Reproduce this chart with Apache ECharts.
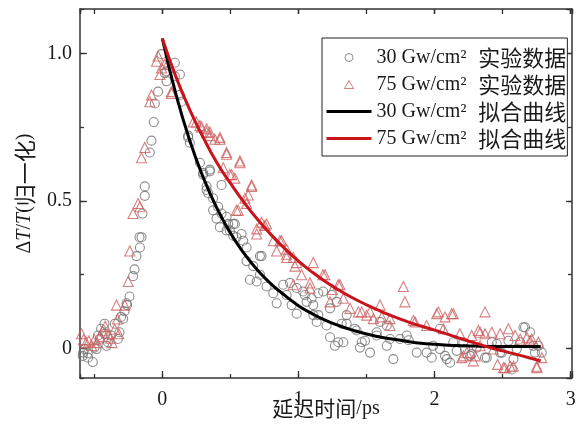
<!DOCTYPE html>
<html>
<head>
<meta charset="utf-8">
<script src="https://cdn.jsdelivr.net/npm/echarts@6/dist/echarts.min.js"></script>
<style>
  html, body { margin: 0; padding: 0; background: #fff; }
  #chart { width: 585px; height: 428px; }
</style>
</head>
<body>
<div id="chart"></div>
<script>
// Measured pump-probe signal, delay (ps) vs normalized ΔT/T
const exp30 = [
  [-0.585,-0.025],[-0.582,-0.014],[-0.572,-0.002],[-0.548,-0.016],[-0.546,-0.031],[-0.511,-0.046],
  [-0.499,0.003],[-0.484,-0.002],[-0.474,0.044],[-0.46,0.032],[-0.45,0.067],[-0.425,0.084],
  [-0.423,0.05],[-0.41,0.009],[-0.4,0.021],[-0.376,0.044],[-0.349,0.084],[-0.327,0.032],
  [-0.315,0.055],[-0.303,0.107],[-0.288,0.101],[-0.278,0.126],[-0.263,0.153],[-0.259,0.147],
  [-0.241,0.176],[-0.215,0.245],[-0.204,0.268],[-0.19,0.313],[-0.168,0.377],[-0.165,0.342],
  [-0.153,0.377],[-0.146,0.457],[-0.129,0.517],[-0.129,0.549],[-0.092,0.664],[-0.08,0.704],
  [-0.063,0.767],[-0.055,0.83],[-0.031,0.87],[-0.006,0.997],[0.018,0.933],[0.031,0.905],
  [0.031,0.939],[0.092,0.968],[0.092,0.922],[0.129,0.928],[0.129,0.859],[0.141,0.836],
  [0.19,0.715],[0.19,0.721],[0.202,0.697],[0.276,0.629],[0.3,0.595],[0.3,0.589],
  [0.325,0.537],[0.325,0.549],[0.337,0.526],[0.349,0.6],[0.349,0.606],[0.373,0.509],
  [0.373,0.468],[0.398,0.44],[0.41,0.48],[0.423,0.411],[0.435,0.457],[0.435,0.554],
  [0.472,0.446],[0.472,0.4],[0.484,0.422],[0.496,0.4],[0.521,0.382],[0.521,0.422],
  [0.533,0.422],[0.544,0.377],[0.582,0.388],[0.594,0.365],[0.619,0.342],[0.619,0.296],
  [0.643,0.233],[0.668,0.279],[0.693,0.227],[0.717,0.313],[0.717,0.25],[0.729,0.313],
  [0.766,0.21],[0.815,0.187],[0.84,0.153],[0.888,0.216],[0.913,0.181],[0.938,0.222],
  [0.95,0.147],[0.987,0.205],[0.987,0.118],[1.035,0.193],[1.047,0.181],[1.06,0.158],
  [1.097,0.17],[1.109,0.113],[1.109,0.147],[1.134,0.09],[1.146,0.187],[1.146,0.113],
  [1.182,0.193],[1.207,0.078],[1.232,0.136],[1.232,0.038],[1.244,0.181],[1.268,0.009],
  [1.281,0.158],[1.293,0.021],[1.318,0.084],[1.33,0.021],[1.354,0.113],[1.354,0.084],
  [1.415,0.067],[1.428,0.061],[1.452,0.003],[1.465,0.021],[1.489,0.026],[1.526,-0.014],
  [1.575,0.044],[1.575,0.055],[1.599,0.09],[1.649,0.009],[1.649,0.078],[1.673,0.032],
  [1.697,-0.036],[1.746,0.032],[1.796,0.044],[1.81,0.028],[1.869,-0.014],[1.942,-0.014],
  [1.99,0.009],[1.979,-0.031],[2.04,-0.002],[2.04,0.067],[2.077,-0.025],[2.09,-0.036],
  [2.114,-0.048],[2.138,0.021],[2.163,-0.008],[2.212,0.021],[2.224,-0.002],[2.261,-0.025],
  [2.273,-0.019],[2.31,0.003],[2.371,-0.031],[2.384,-0.031],[2.421,0.021],[2.457,0.015],
  [2.482,-0.014],[2.494,-0.014],[2.543,0.026],[2.568,-0.071],[2.58,-0.036],[2.604,-0.002],
  [2.629,0.021],[2.653,0.072],[2.665,0.072],[2.702,0.055],[2.726,0.009],[2.738,-0.014],
  [2.763,0.009],[2.788,-0.014]
];

const exp75 = [
  [-0.594,0.05],[-0.58,0.03],[-0.56,0.02],[-0.54,0.025],[-0.52,0.01],[-0.5,0.03],
  [-0.48,0.02],[-0.46,0.04],[-0.44,0.06],[-0.42,0.075],[-0.4,0.05],[-0.38,0.035],
  [-0.37,0.02],[-0.35,0.065],[-0.337,0.147],[-0.33,0.1],[-0.32,0.05],[-0.276,0.147],
  [-0.251,0.227],[-0.239,0.33],[-0.215,0.457],[-0.178,0.491],[-0.165,0.48],[-0.153,0.646],
  [-0.129,0.681],[-0.092,0.836],[-0.08,0.859],[-0.043,0.973],[-0.031,0.991],[-0.018,0.928],
  [-0.006,0.95],[0.018,0.962],[0.043,0.968],[0.067,0.87],[0.067,0.864],[0.227,0.767],
  [0.25,0.767],[0.276,0.755],[0.288,0.75],[0.325,0.744],[0.325,0.733],[0.349,0.733],
  [0.349,0.721],[0.386,0.709],[0.423,0.709],[0.423,0.715],[0.447,0.612],[0.472,0.664],
  [0.472,0.658],[0.496,0.589],[0.509,0.589],[0.533,0.577],[0.544,0.468],[0.557,0.468],
  [0.57,0.635],[0.57,0.629],[0.607,0.509],[0.619,0.491],[0.631,0.52],[0.656,0.554],
  [0.656,0.549],[0.693,0.405],[0.693,0.388],[0.729,0.428],[0.754,0.417],[0.766,0.422],
  [0.815,0.365],[0.84,0.33],[0.864,0.365],[0.876,0.365],[0.913,0.336],[0.913,0.319],
  [0.913,0.308],[0.962,0.308],[0.962,0.216],[0.974,0.279],[0.987,0.291],[1.023,0.25],
  [1.085,0.205],[1.085,0.222],[1.109,0.291],[1.18,0.25],[1.195,0.25],[1.232,0.158],
  [1.25,0.2],[1.293,0.216],[1.305,0.216],[1.33,0.17],[1.379,0.136],[1.44,0.124],
  [1.465,0.124],[1.501,0.113],[1.526,0.124],[1.55,0.101],[1.599,0.147],[1.612,0.107],
  [1.673,0.078],[1.673,0.101],[1.771,0.21],[1.782,0.158],[1.844,0.095],[1.857,0.09],
  [1.942,0.078],[2.016,0.118],[2.028,0.124],[2.065,0.067],[2.077,0.107],[2.126,0.118],
  [2.138,0.118],[2.186,0.05],[2.2,-0.031],[2.212,-0.025],[2.237,-0.014],[2.273,0.044],
  [2.285,-0.042],[2.298,-0.025],[2.322,0.061],[2.335,0.055],[2.335,0.009],[2.371,0.124],
  [2.371,0.05],[2.421,0.055],[2.432,-0.002],[2.463,-0.054],[2.482,0.05],[2.506,-0.065],
  [2.518,-0.065],[2.543,0.067],[2.555,-0.06],[2.58,-0.06],[2.592,0.044],[2.629,0.032],
  [2.678,0.038],[2.702,0.026],[2.714,0.032],[2.751,-0.065],[2.751,-0.06],[2.763,0.021],
  [2.788,-0.031]
];

// Fitted decay curves, sampled along the delay axis
const fitX   = [0, 0.1, 0.2, 0.3, 0.4, 0.5, 0.6, 0.7, 0.8, 0.9, 1.0, 1.1, 1.2, 1.3, 1.4,
                1.5, 1.6, 1.7, 1.8, 1.9, 2.0, 2.1, 2.2, 2.3, 2.4, 2.5, 2.6, 2.7, 2.78];
const fit30Y = [1.05, 0.861, 0.706, 0.580, 0.476, 0.391, 0.322, 0.265, 0.218, 0.180, 0.145,
                0.118, 0.095, 0.077, 0.062, 0.049, 0.039, 0.031, 0.024, 0.018, 0.014, 0.011,
                0.009, 0.008, 0.007, 0.007, 0.007, 0.007, 0.007];
const fit75Y = [1.05, 0.92, 0.81, 0.715, 0.63, 0.56, 0.495, 0.437, 0.385, 0.338, 0.296,
                0.259, 0.226, 0.197, 0.171, 0.148, 0.127, 0.108, 0.091, 0.076, 0.062, 0.048,
                0.032, 0.018, 0.004, -0.008, -0.020, -0.032, -0.042];

// Tick spacing (major labelled ticks, minor unlabelled ticks)
const xMajorStep = 1, xMinorStep = 0.5;
const yMajorStep = 0.5, yMinorStep = 0.25;

const seriesNames = ['30 Gw/cm² 实验数据', '75 Gw/cm² 实验数据', '30 Gw/cm² 拟合曲线', '75 Gw/cm² 拟合曲线'];

const SERIF = 'Liberation Serif, Times New Roman, serif';
const CJK = 'Noto Sans CJK SC';
const INK = '#1a1a1a';
const AXIS = '#333';

const X_MIN = -0.605, X_MAX = 3.01;
const Y_MIN = -0.1, Y_MAX = 1.15;

const isMultiple = (v, step) => Math.abs(v / step - Math.round(v / step)) < 1e-6;

// Axes share one range; the step is pinned with min/maxInterval so ticks sit on multiples of it
function axisDef(kind, position, step, len, extra) {
  const isX = kind === 'x';
  return Object.assign({
    type: 'value', position: position,
    min: isX ? X_MIN : Y_MIN, max: isX ? X_MAX : Y_MAX,
    minInterval: step, maxInterval: step,
    axisLine: { show: false, onZero: false },
    axisTick: { show: true, inside: true, length: len,
                lineStyle: { color: AXIS, width: 1.3 } },
    axisLabel: { show: false },
    splitLine: { show: false }
  }, extra || {});
}

const chart = echarts.init(document.getElementById('chart'), null, { renderer: 'canvas' });

const legendFormatter = function (name) {
  const cut = name.lastIndexOf(' ');
  return '{l|' + name.slice(0, cut) + '}{c|' + name.slice(cut + 1) + '}';
};
const richLatin = { fontFamily: SERIF, fontSize: 20, color: INK };
const richCjk = { fontFamily: CJK, fontSize: 22, color: INK, padding: [0, 0, 0, 12] };

chart.setOption({
  animation: false,
  backgroundColor: '#fff',
  // the grid is fitted inside the page together with the axis name below it
  grid: { left: 80, right: 13, top: 9, bottom: 50 },
  xAxis: [
    axisDef('x', 'bottom', xMajorStep, 7, {
      axisLine: { show: true, onZero: false, lineStyle: { color: AXIS, width: 1.5 } },
      axisLabel: { show: true, margin: 12, showMinLabel: false, showMaxLabel: true,
                   fontFamily: SERIF, fontSize: 20, color: INK,
                   formatter: v => (isMultiple(v, xMajorStep) ? String(Math.round(v)) : '') },
      name: '{c|延迟时间}{l|/ps}',
      nameLocation: 'middle',
      nameGap: 20,
      nameMoveOverlap: false,
      nameTextStyle: {
        rich: {
          c: { fontFamily: CJK, fontSize: 21, color: INK },
          l: { fontFamily: SERIF, fontSize: 20, color: INK }
        }
      }
    }),
    axisDef('x', 'bottom', xMinorStep, 4),
    axisDef('x', 'top', xMajorStep, 5, {
      axisLine: { show: true, onZero: false, lineStyle: { color: AXIS, width: 1.5 } }
    }),
    axisDef('x', 'top', xMinorStep, 5)
  ],
  yAxis: [
    axisDef('y', 'left', yMajorStep, 7, {
      axisLine: { show: true, onZero: false, lineStyle: { color: AXIS, width: 1.5 } },
      axisLabel: { show: true, margin: 8, showMinLabel: false, showMaxLabel: false,
                   fontFamily: SERIF, fontSize: 20, color: INK,
                   formatter: v => (!isMultiple(v, yMajorStep) ? '' : (Math.abs(v) < 1e-9 ? '0' : v.toFixed(1))) },
      name: '{d|Δ}{i|T}{d|/}{i|T}{d|(}{c|归一化}{d|)}',
      nameLocation: 'middle',
      nameGap: 40,
      nameTextStyle: {
        rich: {
          d: { fontFamily: SERIF, fontSize: 20, color: INK },
          i: { fontFamily: SERIF, fontSize: 20, fontStyle: 'italic', color: INK },
          c: { fontFamily: CJK, fontSize: 22, color: INK }
        }
      }
    }),
    axisDef('y', 'left', yMinorStep, 4),
    axisDef('y', 'right', yMajorStep, 6, {
      axisLine: { show: true, onZero: false, lineStyle: { color: AXIS, width: 1.5 } }
    }),
    axisDef('y', 'right', yMinorStep, 4)
  ],
  legend: [
    // Box holding all four entries; this part lists the measured data with small markers
    {
      data: [seriesNames[0], seriesNames[1]],
      orient: 'vertical',
      left: 322, top: 38,
      itemWidth: 9, itemHeight: 8, itemGap: 5,
      padding: [8.5, 1, 60.5, 22],
      borderColor: '#222', borderWidth: 1, backgroundColor: '#fff',
      itemStyle: { borderWidth: 1 },
      formatter: legendFormatter,
      textStyle: { rich: { l: Object.assign({}, richLatin, { padding: [0, 0, 0, 18] }), c: richCjk } },
      z: 4
    },
    // Fit-curve entries with long line icons, inside the same box
    {
      data: [seriesNames[2], seriesNames[3]].map(n => ({ name: n, itemStyle: { color: 'rgba(0,0,0,0)', borderWidth: 0 } })),
      orient: 'vertical',
      left: 320, top: 100.5,
      itemWidth: 45, itemHeight: 8, itemGap: 5,
      padding: [0, 1, 0, 5],
      lineStyle: { width: 3 },
      formatter: legendFormatter,
      textStyle: { rich: { l: richLatin, c: richCjk } },
      z: 5
    }
  ],
  series: [
    {
      name: seriesNames[0], type: 'scatter', data: exp30,
      symbol: 'circle', symbolSize: 9, z: 2,
      itemStyle: { color: 'rgba(255,255,255,0)', borderColor: '#707070', borderWidth: 1.1 }
    },
    {
      name: seriesNames[1], type: 'scatter', data: exp75,
      symbol: 'triangle', symbolSize: 10, z: 3,
      itemStyle: { color: 'rgba(255,255,255,0)', borderColor: '#cc5f5f', borderWidth: 1.1 }
    },
    {
      name: seriesNames[2], type: 'line', z: 5,
      data: fitX.map((x, i) => [x, fit30Y[i]]),
      symbol: 'none', smooth: true,
      itemStyle: { color: '#000' },
      lineStyle: { color: '#000', width: 3 }
    },
    {
      name: seriesNames[3], type: 'line', z: 6,
      data: fitX.map((x, i) => [x, fit75Y[i]]),
      symbol: 'none', smooth: true,
      itemStyle: { color: '#c8141c' },
      lineStyle: { color: '#c8141c', width: 3 }
    }
  ]
});
</script>
</body>
</html>
